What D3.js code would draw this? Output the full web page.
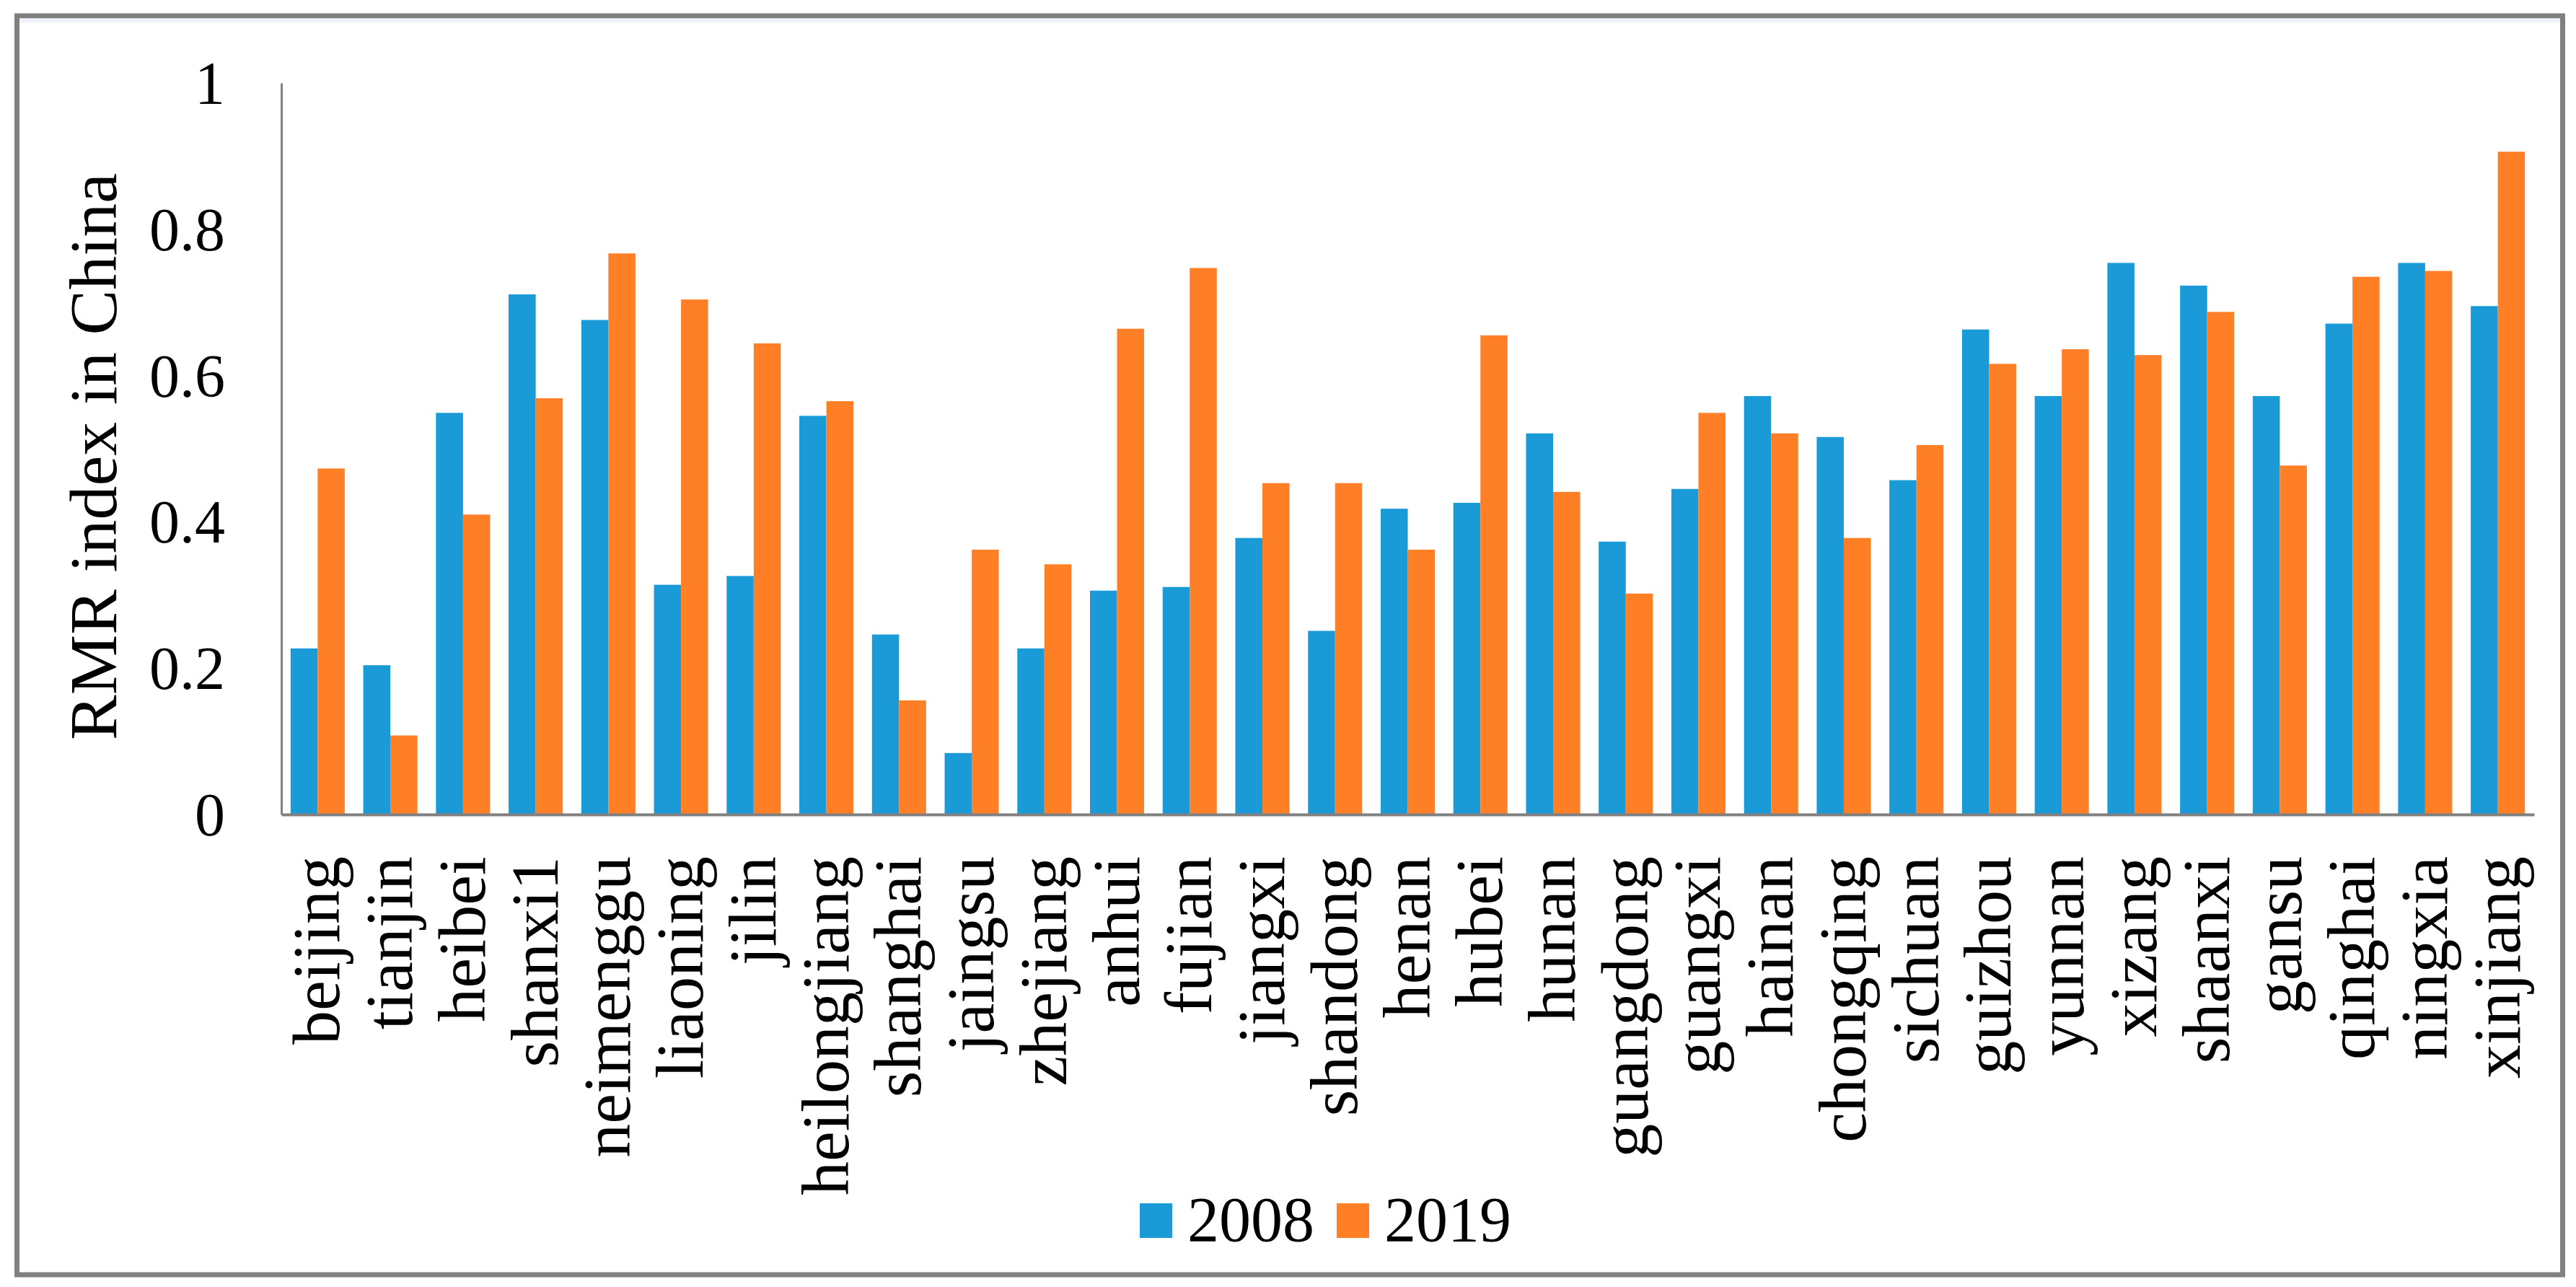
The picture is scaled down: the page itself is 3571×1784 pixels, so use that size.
<!DOCTYPE html>
<html>
<head>
<meta charset="utf-8">
<script src="https://cdn.jsdelivr.net/npm/d3@7"></script>
<style>
  body { margin: 0; background: #fff; }
  svg text { font-family: "Liberation Serif", "Times New Roman", serif; fill: #000; }
</style>
</head>
<body>
<svg id="chart" width="3571" height="1784"></svg>
<script>
var provinces = ['beijing', 'tianjin', 'heibei', 'shanxi1', 'neimenggu', 'liaoning', 'jilin',
    'heilongjiang', 'shanghai', 'jaingsu', 'zhejiang', 'anhui', 'fujian', 'jiangxi', 'shandong',
    'henan', 'hubei', 'hunan', 'guangdong', 'guangxi', 'hainan', 'chongqing', 'sichuan', 'guizhou',
    'yunnan', 'xizang', 'shaanxi', 'gansu', 'qinghai', 'ningxia', 'xinjiang'];
var years = ['2008', '2019'];
var rmr2008 = [0.227, 0.204, 0.549, 0.711, 0.676, 0.314, 0.326, 0.545, 0.246, 0.084, 0.227,
    0.306, 0.311, 0.378, 0.251, 0.418, 0.426, 0.521, 0.373, 0.445, 0.572, 0.516, 0.457, 0.663,
    0.572, 0.754, 0.723, 0.572, 0.671, 0.754, 0.695];
var rmr2019 = [0.473, 0.108, 0.410, 0.569, 0.767, 0.704, 0.644, 0.565, 0.156, 0.362, 0.342,
    0.664, 0.747, 0.453, 0.453, 0.362, 0.655, 0.441, 0.302, 0.549, 0.521, 0.378, 0.505, 0.616,
    0.636, 0.628, 0.687, 0.477, 0.735, 0.743, 0.906];
var yTicks = [0, 0.2, 0.4, 0.6, 0.8, 1];
var colors = ['#1a9ad7', '#ff7f27'];

function drawChart() {
    let svg = d3.select('#chart');

    // frame round the whole figure
    svg.append('rect')
        .attr('x', 23.5).attr('y', 22)
        .attr('width', 3529).attr('height', 1745)
        .style('fill', '#fff')
        .style('stroke', '#808080')
        .style('stroke-width', '7px');
    svg.append('rect')
        .attr('x', 27).attr('y', 25.5)
        .attr('width', 3522).attr('height', 6)
        .style('fill', '#eef2fa');

    var x = d3.scaleBand()
            .domain(provinces)
            .range([390, 3513])
            .paddingInner(0.255)
            .paddingOuter(0.1275);
    var xs = d3.scaleBand()
            .domain(years)
            .range([0, x.bandwidth()]);
    var y = d3.scaleLinear()
            .domain([0, 1])
            .range([1129, 115]);

    var rows = provinces.map(function(p, i) {
        return {name: p, values: [rmr2008[i], rmr2019[i]]};
    });

    var groups = svg.append('g').selectAll('g')
        .data(rows)
        .enter().append('g')
        .attr('transform', function(d) { return 'translate(' + x(d.name) + ',0)'; });
    groups.selectAll('rect')
        .data(function(d) { return d.values.map(function(v, k) { return {year: years[k], v: v, k: k}; }); })
        .enter().append('rect')
        .attr('x', function(d) { return xs(d.year); })
        .attr('y', function(d) { return y(d.v); })
        .attr('width', xs.bandwidth())
        .attr('height', function(d) { return y(0) - y(d.v); })
        .style('fill', function(d) { return colors[d.k]; });

    // y axis
    var yAxis = svg.append('g')
        .attr('transform', 'translate(390,0)')
        .call(d3.axisLeft(y).tickValues(yTicks).tickSize(0).tickPadding(78)
            .tickFormat(function(d) { return d === 0 || d === 1 ? d : d3.format('.1f')(d); }));
    yAxis.select('.domain')
        .attr('stroke', '#808080')
        .attr('stroke-width', 3);
    yAxis.selectAll('text')
        .attr('font-family', null)
        .style('font-size', '84px')
        .attr('dy', '0.34em');

    // x axis
    var xAxis = svg.append('g')
        .attr('transform', 'translate(0,1129)')
        .call(d3.axisBottom(x).tickSize(0).tickSizeOuter(0));
    xAxis.select('.domain')
        .attr('stroke', '#808080')
        .attr('stroke-width', 4);
    xAxis.selectAll('text')
        .attr('font-family', null)
        .style('font-size', '94px')
        .attr('text-anchor', 'end')
        .attr('dy', null)
        .attr('y', null)
        .attr('transform', 'translate(30,58) rotate(-90)');

    // y axis title
    svg.append('text')
        .attr('transform', 'translate(161,633) rotate(-90)')
        .attr('text-anchor', 'middle')
        .style('font-size', '94px')
        .text('RMR index in China');

    // legend
    var legendX = [1580, 1853];
    years.forEach(function(yr, k) {
        svg.append('rect')
            .attr('x', legendX[k]).attr('y', 1668)
            .attr('width', 45).attr('height', 48)
            .style('fill', colors[k]);
        svg.append('text')
            .attr('x', legendX[k] + 66).attr('y', 1720)
            .style('font-size', '88px')
            .text(yr);
    });
}

drawChart();
</script>
</body>
</html>
